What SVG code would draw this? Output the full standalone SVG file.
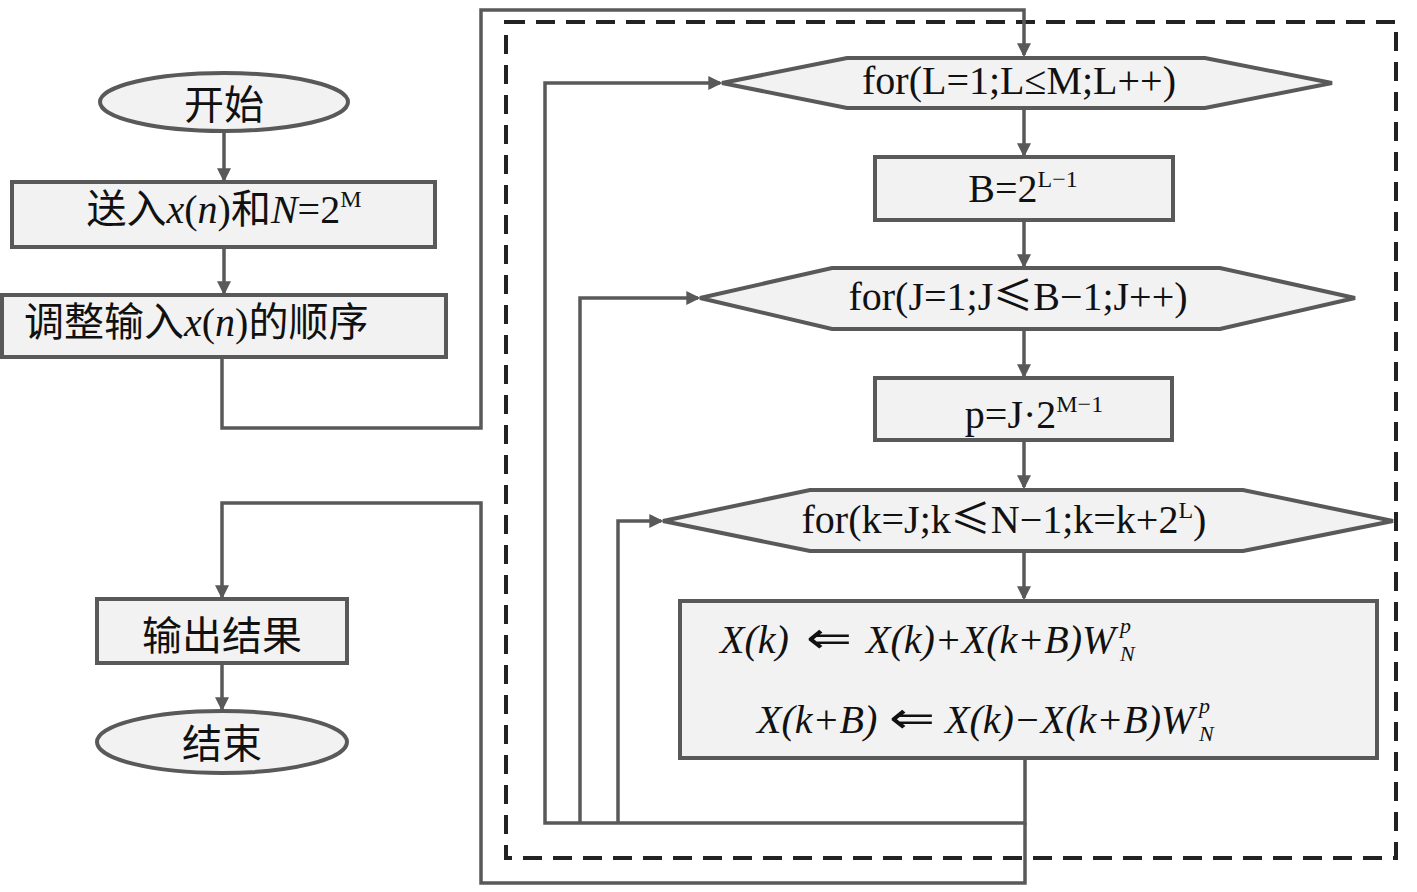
<svg xmlns="http://www.w3.org/2000/svg" width="1417" height="892" viewBox="0 0 1417 892">
<style>
.node{fill:#f2f2f2;stroke:#595959;stroke-width:4}
.t{font-family:"Liberation Serif","Noto Sans CJK SC",serif;font-size:40px;fill:#111}
.c{font-family:"Noto Sans CJK SC","Liberation Serif",serif;font-size:40px;fill:#111}
.i{font-style:italic}
.sup{font-size:24px}
.sm{font-size:22px}
.arr{font-style:normal;font-family:"DejaVu Sans",sans-serif;font-size:44px}
.conn{fill:none;stroke:#595959;stroke-width:3.5;stroke-linejoin:miter}
.dash{fill:none;stroke:#222;stroke-width:4;stroke-dasharray:19 11}
</style>
<defs>
<marker id="ar" markerUnits="userSpaceOnUse" markerWidth="14" markerHeight="14" viewBox="0 0 12 12" refX="10" refY="6" orient="auto">
<path d="M0,0 L12,6 L0,12 z" fill="#595959"/>
</marker>
</defs>
<rect width="1417" height="892" fill="#fff"/>
<rect x="506" y="22" width="890" height="836" class="dash"/>

<g id="connectors">
<path class="conn" d="M224,131 V180" marker-end="url(#ar)"/>
<path class="conn" d="M224,247 V293" marker-end="url(#ar)"/>
<path class="conn" d="M222,357 V428 H481 V10 H1024 V55" marker-end="url(#ar)"/>
<path class="conn" d="M1024,108 V155" marker-end="url(#ar)"/>
<path class="conn" d="M1024,220 V266" marker-end="url(#ar)"/>
<path class="conn" d="M1024,329 V376" marker-end="url(#ar)"/>
<path class="conn" d="M1024,440 V487" marker-end="url(#ar)"/>
<path class="conn" d="M1024,551 V598" marker-end="url(#ar)"/>
<path class="conn" d="M1025,758 V823 H545 V83 H720" marker-end="url(#ar)"/>
<path class="conn" d="M580,823 V298 H698" marker-end="url(#ar)"/>
<path class="conn" d="M618,823 V521 H661" marker-end="url(#ar)"/>
<path class="conn" d="M1025,823 V883 H481 V503 H222 V597" marker-end="url(#ar)"/>
<path class="conn" d="M222,663 V709" marker-end="url(#ar)"/>
</g>

<g id="start">
<ellipse cx="224" cy="102" rx="124" ry="29" class="node"/>
<text x="224" y="119" class="c" text-anchor="middle">开始</text>
</g>

<g id="input">
<rect x="12" y="182" width="423" height="65" class="node"/>
<text x="224" y="223" class="t" text-anchor="middle"><tspan class="c">送入</tspan><tspan class="i">x</tspan>(<tspan class="i">n</tspan>)<tspan class="c">和</tspan><tspan class="i">N</tspan>=2<tspan class="sup" dy="-16">M</tspan></text>
</g>

<g id="reorder">
<rect x="2" y="295" width="444" height="62" class="node"/>
<text x="24" y="336" class="t"><tspan class="c">调整输入</tspan><tspan class="i">x</tspan>(<tspan class="i">n</tspan>)<tspan class="c">的顺序</tspan></text>
</g>

<g id="loopL">
<polygon points="722,83 847,58 1205,58 1332,83 1205,108 847,108" class="node"/>
<text x="1019" y="94" class="t" text-anchor="middle">for(L=1;L≤M;L++)</text>
</g>

<g id="setB">
<rect x="875" y="157" width="298" height="63" class="node"/>
<text x="1023" y="202" class="t" text-anchor="middle">B=2<tspan class="sup" dy="-15">L−1</tspan></text>
</g>

<g id="loopJ">
<polygon points="700,298 832,268 1220,268 1355,298 1220,329 832,329" class="node"/>
<text x="1018" y="310" class="t" text-anchor="middle">for(J=1;J<tspan class="c">≤</tspan>B−1;J++)</text>
</g>

<g id="setP">
<rect x="875" y="378" width="297" height="62" class="node"/>
<text x="1034" y="428" class="t" text-anchor="middle">p=J·2<tspan class="sup" dy="-16">M−1</tspan></text>
</g>

<g id="loopK">
<polygon points="663,521 810,490 1243,490 1393,521 1243,551 810,551" class="node"/>
<text x="1004" y="533" class="t" text-anchor="middle">for(k=J;k<tspan class="c">≤</tspan>N−1;k=k+2<tspan class="sup" dy="-15">L</tspan><tspan dy="15">)</tspan></text>
</g>

<g id="butterfly">
<rect x="680" y="601" width="697" height="157" class="node"/>
<text y="653" class="t i"><tspan x="720">X(k)</tspan><tspan x="806" class="arr" textLength="46" lengthAdjust="spacingAndGlyphs">⇐</tspan><tspan x="866">X(k)+X(k+B)W</tspan><tspan x="1120" y="633" class="sm">p</tspan><tspan x="1120" y="661" class="sm">N</tspan></text>
<text y="733" class="t i"><tspan x="757">X(k+B)</tspan><tspan x="889" class="arr" textLength="46" lengthAdjust="spacingAndGlyphs">⇐</tspan><tspan x="945">X(k)−X(k+B)W</tspan><tspan x="1199" y="713" class="sm">p</tspan><tspan x="1199" y="741" class="sm">N</tspan></text>
</g>

<g id="output">
<rect x="97" y="599" width="250" height="64" class="node"/>
<text x="222" y="650" class="c" text-anchor="middle">输出结果</text>
</g>

<g id="end">
<ellipse cx="222" cy="742" rx="125" ry="31" class="node"/>
<text x="222" y="758" class="c" text-anchor="middle">结束</text>
</g>
</svg>
